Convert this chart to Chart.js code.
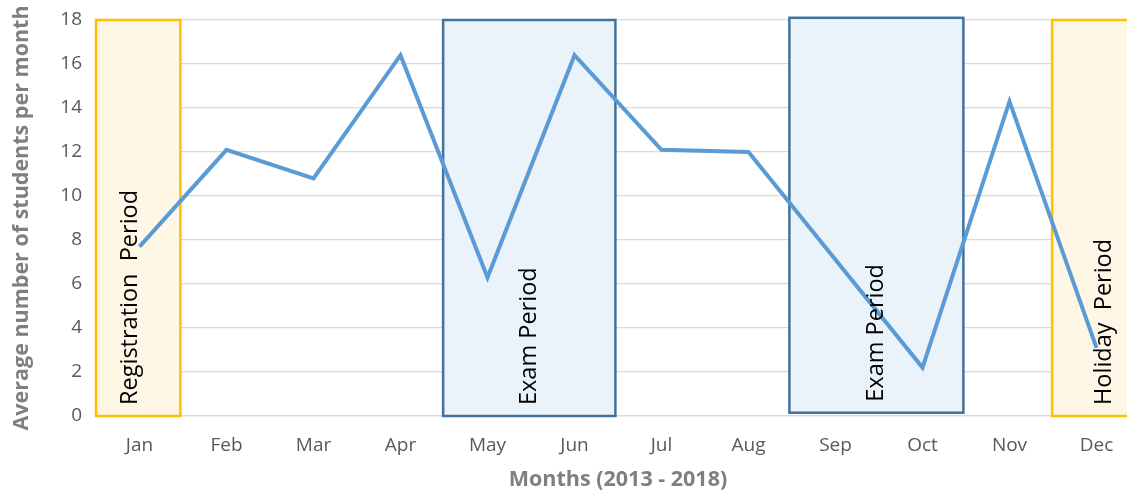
<!DOCTYPE html>
<html>
<head>
<meta charset="utf-8">
<script src="https://cdn.jsdelivr.net/npm/chart.js@4.4.0/dist/chart.umd.min.js"></script>
<style>
  html, body { margin: 0; padding: 0; background: #fff; overflow: hidden; }
  #wrap { width: 1140px; height: 493px; }
</style>
</head>
<body>
<div id="wrap"><canvas id="myChart"></canvas></div>
<script>
const months = ['Jan', 'Feb', 'Mar', 'Apr', 'May', 'Jun', 'Jul', 'Aug', 'Sep', 'Oct', 'Nov', 'Dec'];
const students = [7.7, 12.1, 10.8, 16.4, 6.3, 16.4, 12.1, 12.0, 7.1, 2.2, 14.3, 3.1];
const yTicks = [0, 2, 4, 6, 8, 10, 12, 14, 16, 18];

// shaded periods, in category units along x and values along y
const periodLabels = ['Registration  Period', 'Exam Period', 'Exam Period', 'Holiday  Period'];
const periodFrom = [-0.5, 3.49, 7.47, 10.49];
const periodTo = [0.47, 5.47, 9.47, 11.7];
const periodTop = [18, 18, 18.1, 18];
const periodBottom = [0, 0, 0.15, 0];
const periodTextAt = [-0.1, 4.48, 8.47, 11.09];
const periodKind = ['yellow', 'blue', 'blue', 'yellow'];

const periodStyle = {
    yellow: { fill: '#fff7e6', border: '#ffc000' },
    blue: { fill: '#eaf2fa', border: '#41719c' }
};

const FONT = '"Open Sans", sans-serif';

// boxes go behind the line, labels go on top of it
const periodBoxes = {
    id: 'periodBoxes',
    beforeDatasetsDraw(chart) {
        const ctx = chart.ctx;
        const x = chart.scales.x;
        const y = chart.scales.y;
        for (let i = 0; i < periodLabels.length; i++) {
            const st = periodStyle[periodKind[i]];
            const left = x.getPixelForValue(periodFrom[i]);
            const right = x.getPixelForValue(periodTo[i]);
            const top = y.getPixelForValue(periodTop[i]);
            const bottom = y.getPixelForValue(periodBottom[i]);
            ctx.save();
            ctx.fillStyle = st.fill;
            ctx.fillRect(left, top, right - left, bottom - top);
            ctx.lineWidth = 2.5;
            ctx.strokeStyle = st.border;
            ctx.strokeRect(left, top, right - left, bottom - top);
            ctx.restore();
        }
    },
    afterDatasetsDraw(chart) {
        const ctx = chart.ctx;
        const x = chart.scales.x;
        const y = chart.scales.y;
        for (let i = 0; i < periodLabels.length; i++) {
            const bottom = y.getPixelForValue(periodBottom[i]);
            ctx.save();
            ctx.translate(x.getPixelForValue(periodTextAt[i]), bottom - 11);
            ctx.rotate(-Math.PI / 2);
            ctx.fillStyle = '#000';
            ctx.font = '23.5px ' + FONT;
            ctx.textAlign = 'left';
            ctx.textBaseline = 'middle';
            ctx.fillText(periodLabels[i], 0, 0);
            ctx.restore();
        }
    }
};

let ctx = document.getElementById('myChart').getContext('2d');
let chart = new Chart(ctx, {
    type: 'line',
    data: {
        labels: months,
        datasets: [{
            label: 'Average students',
            data: students,
            borderColor: '#5b9bd5',
            borderWidth: 4,
            pointRadius: 0,
            tension: 0,
            fill: false
        }]
    },
    options: {
        responsive: true,
        maintainAspectRatio: false,
        animation: false,
        layout: { padding: { top: 20, right: 0, bottom: 0, left: 9 } },
        plugins: {
            legend: { display: false },
            tooltip: { enabled: false }
        },
        scales: {
            y: {
                min: yTicks[0],
                max: yTicks[yTicks.length - 1],
                afterFit: scale => {
                    scale.width = 87;
                    scale.paddingTop = 0;
                    scale.paddingBottom = 0;
                },
                ticks: {
                    stepSize: yTicks[1] - yTicks[0],
                    color: '#595959',
                    font: { family: FONT, size: 19 },
                    padding: 14
                },
                grid: { color: '#d9d9d9', lineWidth: 1.3, drawTicks: false },
                border: { display: false },
                title: {
                    display: true,
                    text: 'Average number of students per month',
                    color: '#7f7f7f',
                    font: { family: FONT, size: 21.5, weight: 'bold' },
                    padding: { top: 0, bottom: 0 }
                }
            },
            x: {
                offset: true,
                afterFit: scale => { scale.height = 77; },
                ticks: {
                    color: '#595959',
                    font: { family: FONT, size: 19 },
                    padding: 18
                },
                grid: { display: false, drawTicks: false },
                border: { color: '#d9d9d9', width: 1.3 },
                title: {
                    display: true,
                    text: 'Months (2013 - 2018)',
                    color: '#7f7f7f',
                    font: { family: FONT, size: 21.5, weight: 'bold' },
                    padding: { top: 8, bottom: 0 }
                }
            }
        }
    },
    plugins: [periodBoxes]
});
</script>
</body>
</html>
